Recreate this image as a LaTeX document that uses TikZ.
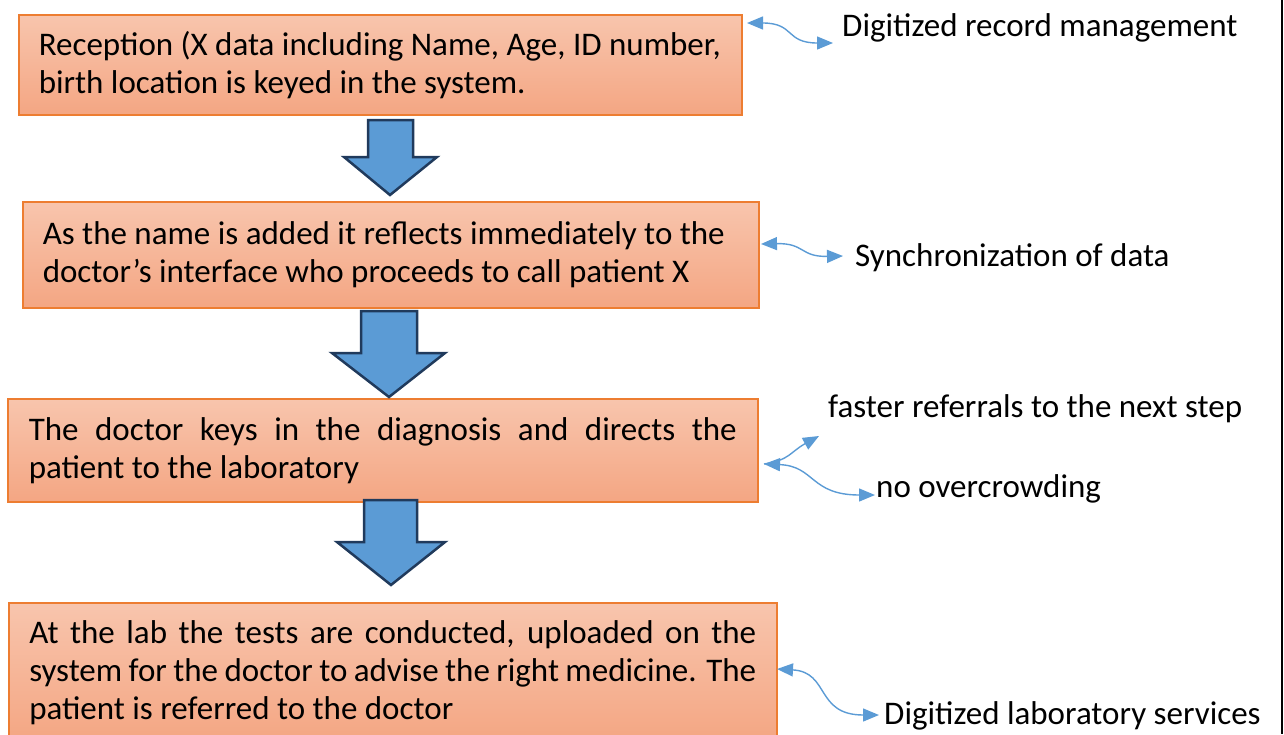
\documentclass[tikz,border=0pt]{standalone}
\usepackage{fontspec}
\setmainfont{Carlito}
\usetikzlibrary{arrows.meta}
\definecolor{boxtop}{HTML}{F8C5AD}
\definecolor{boxbot}{HTML}{F4A683}
\definecolor{boxline}{HTML}{ED7D31}
\definecolor{arrowfill}{HTML}{5B9BD5}
\definecolor{arrowline}{HTML}{203A5C}
\definecolor{linkblue}{HTML}{5B9BD5}
\begin{document}
\begin{tikzpicture}[x=1pt, y=-1pt,
        box/.style={draw=boxline, line width=1.5pt, top color=boxtop, bottom color=boxbot,
            anchor=north west, inner sep=0pt, align=left, font=\fontsize{33}{38}\selectfont},
        blockarrow/.style={draw=arrowline, fill=arrowfill, line width=2.5pt, line join=miter},
        link/.style={draw=linkblue, line width=1.4pt, >={Triangle[length=16pt,width=13pt]}},
        note/.style={anchor=base west, inner sep=0pt, font=\fontsize{33}{38}\selectfont}]
        \path [use as bounding box, clip] (0,0) rectangle (1284,734);
        \node [box, minimum width=723, minimum height=100] (recep) at (18,14)
            {\makebox[683pt][l]{Reception (X data including Name, Age, ID number,}\\ birth location is keyed in the system.};
        \node [box, minimum width=736, minimum height=106] (sync) at (22,201)
            {\makebox[696pt][l]{As the name is added it reflects immediately to the}\\ doctor’s interface who proceeds to call patient X};
        \node [box, minimum width=750, minimum height=103] (diag) at (7,398)
            {\makebox[708pt][s]{The doctor keys in the diagnosis and directs the}\\ patient to the laboratory};
        \node [box, minimum width=768, minimum height=139] (lab) at (8,602)
            {\makebox[727pt][s]{At the lab the tests are conducted, uploaded on the}\\
             \makebox[727pt][s]{system for the doctor to advise the right medicine. The}\\
             patient is referred to the doctor};
        \draw [blockarrow] (368,120) -- (413,120) -- (413,157) -- (437,157) -- (390,195) -- (344,157) -- (368,157) -- cycle;
        \draw [blockarrow] (361,311) -- (417,311) -- (417,353) -- (445,353) -- (389,397) -- (332,353) -- (361,353) -- cycle;
        \draw [blockarrow] (364,500) -- (417,500) -- (417,542) -- (445,542) -- (391,585) -- (337,542) -- (364,542) -- cycle;
        \node [note] (digrec) at (842,36) {Digitized record management};
        \node [note] (syndat) at (855,266) {Synchronization of data};
        \node [note] (faster) at (828,417) {faster referrals to the next step};
        \node [note] (nocrowd) at (876,497) {no overcrowding};
        \node [note] (diglab) at (884,724) {Digitized laboratory services};
        \coordinate (recepR) at (747,23);
        \coordinate (digrecL) at (833,43);
        \coordinate (syncR) at (761,244);
        \coordinate (syndatL) at (843,256);
        \coordinate (diagR) at (764,464);
        \coordinate (fasterL) at (819,436);
        \coordinate (nocrowdL) at (875,495);
        \coordinate (labR) at (777,669);
        \coordinate (diglabL) at (879,715);
        \draw [link, <->] (recepR) .. controls (795,23) and (785,43) .. (digrecL);
        \draw [link, <->] (syncR) .. controls (805,243) and (800,257) .. (syndatL);
        \draw [link, ->] (diagR) .. controls (790,460) and (790,452) .. (fasterL);
        \draw [link, <->] (diagR) .. controls (815,466) and (810,495) .. (nocrowdL);
        \draw [link, <->] (labR) .. controls (830,672) and (815,715) .. (diglabL);
        \draw [line width=2.5pt] (1282,0) -- (1282,734);
    \end{tikzpicture}
\end{document}
